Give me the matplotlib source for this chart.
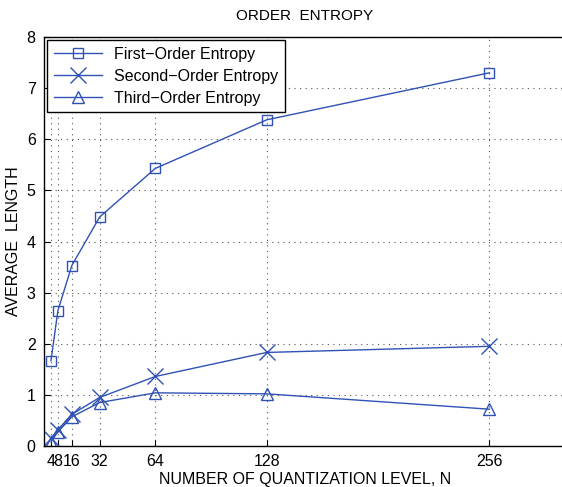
import matplotlib.pyplot as plt

# quantization levels and entropy values
levels = [4, 8, 16, 32, 64, 128, 256]
first_order = [1.67, 2.65, 3.53, 4.48, 5.43, 6.38, 7.30]
second_order = [0.15, 0.32, 0.62, 0.95, 1.36, 1.83, 1.95]
third_order = [0.08, 0.28, 0.57, 0.85, 1.04, 1.02, 0.72]

x_ticks = [4, 8, 16, 32, 64, 128, 256]
x_ticklabels = ["4", "8", "16", "32", "64", "128", "256"]

BLUE = "#2f52b4"

plt.rcParams["font.family"] = ["Liberation Sans", "DejaVu Sans"]

fig = plt.figure(figsize=(5.62, 4.87), dpi=100)
# right edge runs slightly past the figure, like the cropped original
ax = fig.add_axes([44 / 562, (487 - 446) / 487, 522 / 562, 409 / 487])

ax.plot(levels, first_order, "-", marker="s", ms=7, mfc="none", color=BLUE, lw=1, mew=1,
        label="First\u2212Order Entropy")
ax.plot(levels, second_order, "-", marker="x", ms=12, color=BLUE, lw=1, mew=1,
        label="Second\u2212Order Entropy")
ax.plot(levels, third_order, "-", marker="^", ms=9, mfc="none", color=BLUE, lw=1, mew=1,
        label="Third\u2212Order Entropy")

ax.set_xlim(0, 300)
ax.set_ylim(0, 8)
ax.set_xticks(x_ticks)
ax.set_xticklabels(x_ticklabels)
ax.set_yticks(range(0, 9))
ax.tick_params(labelsize=11.5, direction="in", length=4, width=0.8, pad=6)
ax.grid(True, linestyle=(0, (1, 4)), color="#555555", linewidth=0.8)
for s in ax.spines.values():
    s.set_linewidth(1)

ax.set_title("ORDER  ENTROPY", fontsize=11, pad=12)
ax.set_xlabel("NUMBER OF QUANTIZATION LEVEL, N", fontsize=11.5, labelpad=2)
ax.set_ylabel("AVERAGE  LENGTH", fontsize=11.5, labelpad=4)

leg = ax.legend(loc="upper left", fontsize=11.5, fancybox=False, framealpha=1,
                edgecolor="black", borderaxespad=0.2, handlelength=3,
                labelspacing=0.45, borderpad=0.4)
leg.get_frame().set_linewidth(1)

fig.savefig("out.png", dpi=100)
